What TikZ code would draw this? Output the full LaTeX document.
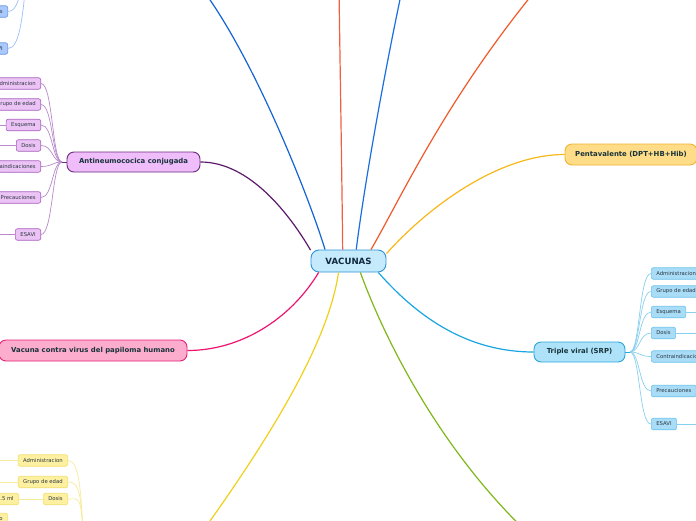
\documentclass[tikz,border=0pt]{standalone}
\usepackage{fontspec}
\setmainfont{DejaVu Sans}
\definecolor{cfill}{HTML}{C4EAFB}
\definecolor{cdraw}{HTML}{2E93D8}
\definecolor{ctxt}{HTML}{10283F}
\definecolor{txt}{HTML}{17333A}
\definecolor{subtxt}{HTML}{2A3540}
\definecolor{purline}{HTML}{5C1A6A}
\definecolor{purfill}{HTML}{EFBDFA}
\definecolor{purdraw}{HTML}{6E2A7E}
\definecolor{psfill}{HTML}{EBC4F5}
\definecolor{psdraw}{HTML}{A860C0}
\definecolor{psline}{HTML}{B98ACB}
\definecolor{goldline}{HTML}{F8B81A}
\definecolor{goldfill}{HTML}{FEDC88}
\definecolor{golddraw}{HTML}{F2B530}
\definecolor{cyanline}{HTML}{19A6E0}
\definecolor{cyanfill}{HTML}{AEE2F8}
\definecolor{cyandraw}{HTML}{2AA6DE}
\definecolor{csfill}{HTML}{A9DDF7}
\definecolor{csdraw}{HTML}{6CC4EC}
\definecolor{csline}{HTML}{88D0F0}
\definecolor{pinkline}{HTML}{EC1470}
\definecolor{pinkfill}{HTML}{FCACCC}
\definecolor{pinkdraw}{HTML}{E8207A}
\definecolor{ysfill}{HTML}{FDF0A0}
\definecolor{ysdraw}{HTML}{F2E070}
\definecolor{ysline}{HTML}{F7EC9C}
\definecolor{bsfill}{HTML}{A9C8FB}
\definecolor{bsdraw}{HTML}{6B9AE6}
\definecolor{bsline}{HTML}{9EC0F6}
\definecolor{blueA}{HTML}{1464D6}
\definecolor{blueB}{HTML}{1A6EE0}
\definecolor{redA}{HTML}{F06040}
\definecolor{orangeA}{HTML}{F05A2A}
\definecolor{greenA}{HTML}{80B81A}
\definecolor{yellowA}{HTML}{F0D01A}
\begin{document}
\begin{tikzpicture}[x=1pt,y=-1pt,
  mainbox/.style={draw, rounded corners=7pt, line width=0.9pt, inner sep=0pt,
    font=\fontsize{6.9}{8}\selectfont\bfseries, text=txt},
  subbox/.style={draw, rounded corners=2pt, line width=0.6pt, inner xsep=5pt, inner ysep=0pt,
    minimum height=11.5pt, font=\fontsize{5.3}{6}\selectfont, text=subtxt},
  psub/.style={subbox, fill=psfill, draw=psdraw, anchor=east},
  csub/.style={subbox, fill=csfill, draw=csdraw, anchor=west},
  ysub/.style={subbox, fill=ysfill, draw=ysdraw, anchor=east},
  bsub/.style={subbox, fill=bsfill, draw=bsdraw, anchor=east},
  branch/.style={line width=1.2pt},
  twig/.style={line width=0.7pt}]
\useasboundingbox (0,0) rectangle (696,520);
\fill[white] (0,0) rectangle (696,520);
\clip (0,0) rectangle (696,520);

% main nodes
\node[mainbox, fill=cfill, draw=cdraw, minimum width=75pt, minimum height=22pt, rounded corners=8pt,
  font=\fontsize{8.6}{10}\selectfont\bfseries, text=ctxt] (c) at (348.5,261) {VACUNAS};
\node[mainbox, fill=purfill, draw=purdraw, minimum width=133pt, minimum height=20pt] (an) at (133.5,162) {Antineumococica conjugada};
\node[mainbox, fill=goldfill, draw=golddraw, minimum width=132pt, minimum height=21pt] (pv) at (631,154.5) {Pentavalente (DPT+HB+Hib)};
\node[mainbox, fill=cyanfill, draw=cyandraw, minimum width=91pt, minimum height=20pt] (tv) at (579.5,352) {Triple viral (SRP)};
\node[mainbox, fill=pinkfill, draw=pinkdraw, minimum width=188pt, minimum height=21pt] (pp) at (93,350.5) {Vacuna contra virus del papiloma humano};

% off-picture ends
\coordinate (t1) at (203,-10);
\coordinate (t2) at (339,-10);
\coordinate (t3) at (402,-10);
\coordinate (t4) at (540,-15);
\coordinate (t5) at (530,535);
\coordinate (t6) at (200,535);

% branches
\draw[branch, purline] (c.164) .. controls (290,215) and (250,162) .. (an.east);
\draw[branch, blueA] (c.154) .. controls (310,200) and (256,62) .. (t1);
\draw[branch, redA] (c.117) .. controls (342,180) and (340,60) .. (t2);
\draw[branch, blueB] (c.56) .. controls (365,180) and (385,70) .. (t3);
\draw[branch, orangeA] (c.27) .. controls (400,200) and (445,100) .. (t4);
\draw[branch, goldline] (c.11) .. controls (430,205) and (500,154.5) .. (pv.west);
\draw[branch, cyanline] (c.-21) .. controls (420,320) and (470,352) .. (tv.west);
\draw[branch, greenA] (c.-44) .. controls (385,340) and (440,450) .. (t5);
\draw[branch, yellowA] (c.-131) .. controls (330,330) and (290,410) .. (t6);
\draw[branch, pinkline] (c.201) .. controls (290,320) and (240,350.5) .. (pp.east);

% purple sub nodes
\node[psub] (pa) at (41,83.5) {Administracion};
\node[psub] (pg) at (41,104.5) {Grupo de edad};
\node[psub] (pe) at (41,125) {Esquema};
\node[psub] (pd) at (41,145.5) {Dosis};
\node[psub] (pc) at (41,166.5) {Contraindicaciones};
\node[psub] (pr) at (41,197.5) {Precauciones};
\node[psub] (ps) at (41,234.5) {ESAVI};
\coordinate (ah) at (62,162);
\coordinate (pel) at (-5,125);
\coordinate (pdl) at (-5,145.5);
\coordinate (psl) at (-5,234.5);
\draw[twig, purdraw] (an.west) -- (ah);
\foreach \s in {pa,pg,pe,pd,pc,pr,ps}
  \draw[twig, psline] (ah) .. controls +(-10,0) and +(12,0) .. (\s.east);
\draw[twig, psline] (pe.west) -- (pel);
\draw[twig, psline] (pd.west) -- (pdl);
\draw[twig, psline] (ps.west) -- (psl);

% cyan sub nodes
\node[csub] (ca) at (651,273.5) {Administracion};
\node[csub] (cg) at (651,291.5) {Grupo de edad};
\node[csub] (ce) at (651,312) {Esquema};
\node[csub] (cd) at (651,333) {Dosis};
\node[csub] (cc) at (651,356.5) {Contraindicaciones};
\node[csub] (cr) at (651,391) {Precauciones};
\node[csub] (cs) at (651,424) {ESAVI};
\coordinate (th) at (630,352);
\coordinate (cer) at (705,312);
\coordinate (cdr) at (705,333);
\coordinate (csr) at (705,424);
\draw[twig, cyandraw] (tv.east) -- (th);
\foreach \s in {ca,cg,ce,cd,cc,cr,cs}
  \draw[twig, csline] (th) .. controls +(10,0) and +(-12,0) .. (\s.west);
\draw[twig, csline] (ce.east) -- (cer);
\draw[twig, csline] (cd.east) -- (cdr);
\draw[twig, csline] (cs.east) -- (csr);

% yellow sub nodes (bottom left)
\node[ysub] (ya) at (68,460.5) {Administracion};
\node[ysub] (yg) at (68,482) {Grupo de edad};
\node[ysub] (yd) at (68,499) {Dosis};
\node[ysub] (ym) at (19,499) {0.5 ml};
\node[ysub, minimum width=40pt, text width=30pt, align=right] (yo) at (8,519) {o};
\coordinate (yh) at (84,548);
\coordinate (yal) at (-5,460.5);
\coordinate (ygl) at (-5,482);
\foreach \s in {ya,yg,yd}
  \draw[twig, ysline] (\s.east) .. controls +(12,0) and +(-3,-55) .. (yh);
\draw[twig, ysline] (ya.west) -- (yal);
\draw[twig, ysline] (yg.west) -- (ygl);
\draw[twig, ysline] (yd.west) -- (ym.east);

% blue sub nodes (top left)
\node[bsub] (bp) at (8,11.5) {Precauciones};
\node[bsub] (bs) at (8,48.5) {ESAVI};
\coordinate (bh) at (27,-30);
\draw[twig, bsline] (bp.east) .. controls +(10,0) and +(-8,25) .. (bh);
\draw[twig, bsline] (bs.east) .. controls +(12,0) and +(-4,45) .. (bh);
\end{tikzpicture}
\end{document}
